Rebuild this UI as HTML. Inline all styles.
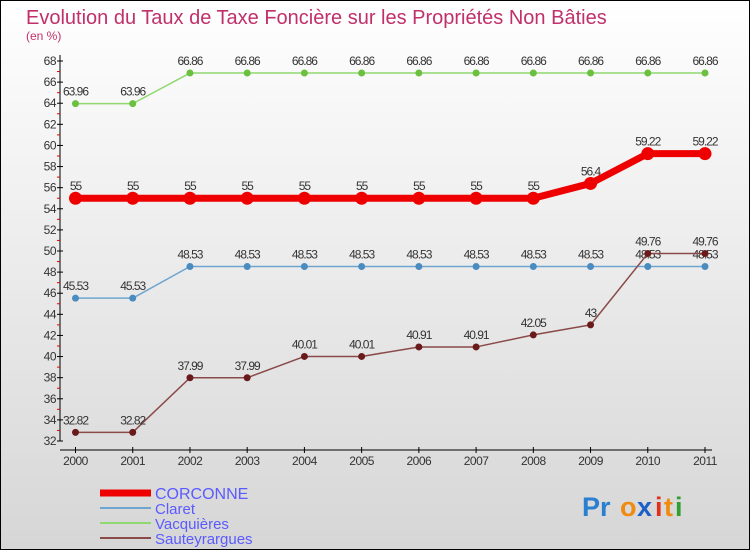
<!DOCTYPE html>
<html><head><meta charset="utf-8"><style>
body{margin:0}
svg{display:block;font-family:"Liberation Sans",sans-serif}
</style></head><body>
<svg id="c" width="750" height="550" viewBox="0 0 750 550" xmlns="http://www.w3.org/2000/svg">
<defs><linearGradient id="bg" x1="0" y1="0" x2="0" y2="1"><stop offset="0" stop-color="#ffffff"/><stop offset="1" stop-color="#d6d6d6"/></linearGradient></defs>
<rect x="0.5" y="0.5" width="749" height="549" fill="url(#bg)" stroke="#000"/>
<text x="26" y="24" font-size="20" fill="#c0306a">Evolution du Taux de Taxe Foncière sur les Propriétés Non Bâties</text>
<text x="26" y="40" font-size="12" fill="#c0306a">(en %)</text>
<g id="axes"></g><g id="series"></g><g id="legend"></g>
<g font-size="27" font-weight="bold">
<text x="582" y="516" fill="#2a7fd0">Pr</text><text x="620" y="516" fill="#f08a10">o</text><text x="637" y="516" fill="#1a60c8">x</text><text x="655" y="516" fill="#e03020">i</text><text x="664" y="516" fill="#f08a10">t</text><text x="675" y="516" fill="#30a030">i</text>
</g>
</svg>
<script>
const years=["2000","2001","2002","2003","2004","2005","2006","2007","2008","2009","2010","2011"];
const corconne=[55,55,55,55,55,55,55,55,55,56.4,59.22,59.22];
const claret=[45.53,45.53,48.53,48.53,48.53,48.53,48.53,48.53,48.53,48.53,48.53,48.53];
const vacquieres=[63.96,63.96,66.86,66.86,66.86,66.86,66.86,66.86,66.86,66.86,66.86,66.86];
const sauteyrargues=[32.82,32.82,37.99,37.99,40.01,40.01,40.91,40.91,42.05,43,49.76,49.76];
const yTicks=[32,34,36,38,40,42,44,46,48,50,52,54,56,58,60,62,64,66,68];
const NS="http://www.w3.org/2000/svg";
const X=i=>75.5+i*(705-75.5)/(years.length-1);
const Y=v=>441-(v-32)*(380/36);
function mk(p,t,a){const e=document.createElementNS(NS,t);for(const k in a)e.setAttribute(k,a[k]);p.appendChild(e);return e;}
const ax=document.getElementById('axes');
let l=mk(ax,'line',{x1:60,y1:55,x2:60,y2:441,stroke:'#000'});


l=mk(ax,'line',{x1:60,y1:450,x2:712,y2:450,stroke:'#000'});


yTicks.forEach(v=>{
 mk(ax,'line',{x1:57,y1:Y(v),x2:63,y2:Y(v),stroke:'#000'});
 if(v<68){const m=mk(ax,'line',{x1:57,y1:Y(v+1),x2:60,y2:Y(v+1),stroke:'#e00000'});}
 const t=mk(ax,'text',{x:56,y:Y(v)+4,'font-size':12,fill:'#333','text-anchor':'end','letter-spacing':'-0.5'});
 t.textContent=v;
 
 
});
years.forEach((y,i)=>{
 mk(ax,'line',{x1:X(i),y1:447,x2:X(i),y2:453,stroke:'#000'});
 const t=mk(ax,'text',{x:X(i),y:465,'font-size':12,fill:'#333','text-anchor':'middle','letter-spacing':'-0.5'});
 t.textContent=y;
 
 
});
const sg=document.getElementById('series');
const defs=[
 {n:'claret',d:claret,c:'#6fa5cf',w:1.5,r:3.5,f:'#4a8cc0'},
 {n:'vacquieres',d:vacquieres,c:'#90d870',w:1.5,r:3.5,f:'#6cc040'},
 {n:'sauteyrargues',d:sauteyrargues,c:'#8a4a4a',w:1.5,r:3.5,f:'#6a1a1a'},
 {n:'corconne',d:corconne,c:'#ee0000',w:7,r:6.5,f:'#ee0000'}];
defs.forEach(s=>{
 const g=mk(sg,'g',{});
 
 
 const p=mk(g,'polyline',{points:s.d.map((v,i)=>X(i)+','+Y(v)).join(' '),fill:'none',stroke:s.c,'stroke-width':s.w,'stroke-linejoin':'round'});
 
 
 s.d.forEach((v,i)=>{
  const c=mk(g,'circle',{cx:X(i),cy:Y(v),r:s.r,fill:s.f});
  
  
  const t=mk(g,'text',{x:X(i),y:Y(v)-8,'font-size':12,fill:'#333','text-anchor':'middle','letter-spacing':'-1'});
  t.textContent=String(v);
  
  
 });
});
const lg=document.getElementById('legend');
const leg=[['CORCONNE','#ee0000',7,493,16],['Claret','#6fa5cf',2,508,15],['Vacquières','#90d870',2,523,15],['Sauteyrargues','#8a4a4a',2,538,15]];
leg.forEach(e=>{
 const g=mk(lg,'g',{});
 
 
 mk(g,'line',{x1:100,y1:e[3],x2:151,y2:e[3],stroke:e[1],'stroke-width':e[2]});
 const t=mk(g,'text',{x:155,y:e[3]+6,'font-size':e[4],fill:'#5a5aff'});
 t.textContent=e[0];
});
</script>
</body></html>
